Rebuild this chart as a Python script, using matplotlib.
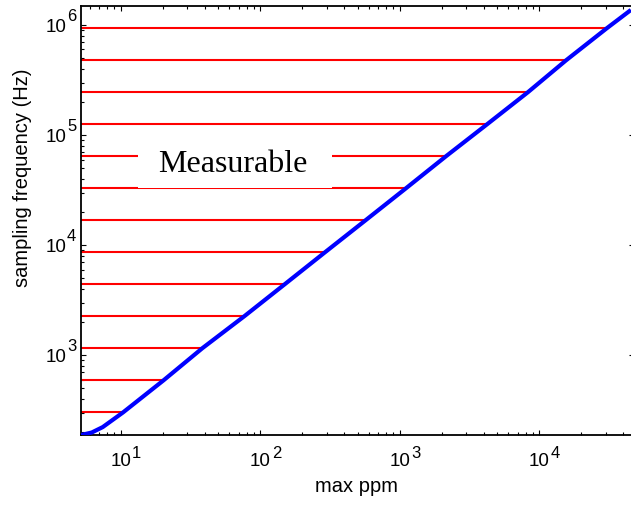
import matplotlib
matplotlib.use("Agg")
import matplotlib.pyplot as plt
from matplotlib.ticker import FixedLocator, FixedFormatter, LogLocator, NullFormatter
from matplotlib.patches import Rectangle

# ---- data ----
ppm = [5.2, 6.2, 7.44, 10.4, 20.3, 38.5, 77.5, 151, 293, 568, 1110, 2160, 4220, 8300, 15600, 30500, 45500]
freq = [189, 199, 223, 303, 593, 1160, 2280, 4450, 8670, 16800, 32900, 64600, 125000, 245000, 478000, 933000, 1370000]

level_freq = [303, 593, 1160, 2280, 4450, 8670, 16800, 32900, 64600, 125000, 245000, 478000, 933000]
level_ppm_end = [10.4, 20.3, 38.5, 77.5, 151, 293, 568, 1110, 2160, 4220, 8300, 15600, 30500]

x_major = [10, 100, 1000, 10000]
x_exps = ["1", "2", "3", "4"]
y_major = [1e3, 1e4, 1e5, 1e6]
y_exps = ["3", "4", "5", "6"]
tick_base = "10"

plt.rcParams["font.family"] = ["Liberation Sans", "DejaVu Sans"]

fig = plt.figure(figsize=(6.31, 5.05), dpi=100)
ax = fig.add_axes([0.1284, 0.1386, 0.8764, 0.8495])
ax.set_xscale("log")
ax.set_yscale("log")
xmin, xmax = 5.2, 47900
ax.set_xlim(xmin, xmax)
ax.set_ylim(189, 1.488e6)

ax.hlines(level_freq, xmin, level_ppm_end, colors="#ff0000", lw=1.5, zorder=2)

ax.add_patch(Rectangle((0.103, 0.575), 0.351, 0.1126, transform=ax.transAxes,
                       facecolor="white", edgecolor="none", zorder=3))
ax.text(0.274, 0.6124, "Measurable", transform=ax.transAxes, ha="center", va="baseline",
        fontsize=23, family=["Liberation Serif", "DejaVu Serif"], zorder=4)

ax.plot(ppm, freq, color="#0000ff", lw=3, zorder=5, solid_capstyle="butt")

# ticks
ax.xaxis.set_major_locator(FixedLocator(x_major))
ax.xaxis.set_major_formatter(FixedFormatter([tick_base] * len(x_major)))
ax.yaxis.set_major_locator(FixedLocator(y_major))
ax.yaxis.set_major_formatter(FixedFormatter([tick_base] * len(y_major)))
for axis in (ax.xaxis, ax.yaxis):
    axis.set_minor_locator(LogLocator(base=10, subs=range(2, 10), numticks=30))
    axis.set_minor_formatter(NullFormatter())

ax.tick_params(which="both", direction="in", top=True, right=True, width=0.8)
ax.tick_params(which="major", length=3.6)
ax.tick_params(which="minor", length=2.2)
ax.tick_params(axis="x", which="major", pad=13, labelsize=13.5)
ax.tick_params(axis="y", which="major", pad=10.8, labelsize=13.5)

for v, e in zip(x_major, x_exps):
    ax.annotate(e, xy=(v, 0), xycoords=("data", "axes fraction"), xytext=(8.3, -16.6),
                textcoords="offset points", ha="left", va="baseline", fontsize=12,
                annotation_clip=False)
for v, e in zip(y_major, y_exps):
    ax.annotate(e, xy=(0, v), xycoords=("axes fraction", "data"), xytext=(-10.1, 2.9),
                textcoords="offset points", ha="left", va="baseline", fontsize=12,
                annotation_clip=False)

for s in ax.spines.values():
    s.set_linewidth(1.3)

ax.set_xlabel("max ppm", fontsize=14.5, va="top")
ax.xaxis.set_label_coords(0.499, -0.0988)
ax.set_ylabel("sampling frequency (Hz)", fontsize=14.5)
ax.yaxis.set_label_coords(-0.089, 0.600)

fig.savefig("out.png", dpi=100)
